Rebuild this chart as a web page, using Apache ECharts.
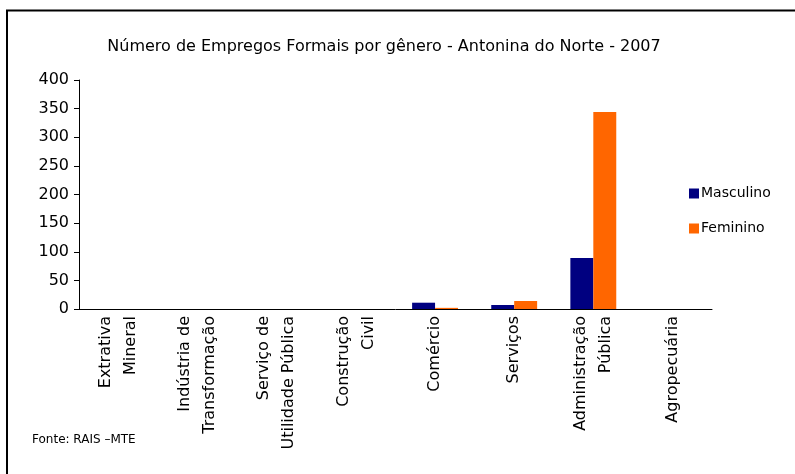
<!DOCTYPE html>
<html>
<head>
<meta charset="utf-8">
<script src="https://cdn.jsdelivr.net/npm/echarts@6/dist/echarts.min.js"></script>
<style>
  html, body { margin: 0; padding: 0; background: #fff; }
</style>
</head>
<body>
<div id="chart" style="width: 795px; height: 474px;"></div>
<script>
const categories = [
  'Extrativa\nMineral',
  'Indústria de\nTransformação',
  'Serviço de\nUtilidade Pública',
  'Construção\nCivil',
  'Comércio',
  'Serviços',
  'Administração\nPública',
  'Agropecuária'
];
const masculino = [0, 0, 0, 0, 11, 7, 89, 0];
const feminino = [0, 0, 0, 0, 2, 14, 344, 0];
const yTicks = [0, 50, 100, 150, 200, 250, 300, 350, 400];

const myChart = echarts.init(document.getElementById('chart'));
const font = 'DejaVu Sans, Verdana, sans-serif';

const option = {
  animation: false,
  backgroundColor: '#fff',
  title: {
    text: 'Número de Empregos Formais por gênero - Antonina do Norte - 2007',
    left: 379,
    textAlign: 'center',
    top: 34,
    textStyle: { fontFamily: font, fontSize: 16, fontWeight: 'normal', color: '#000' }
  },
  legend: {
    orient: 'vertical',
    left: 684,
    top: 181,
    itemWidth: 10,
    itemHeight: 10,
    itemGap: 20,
    icon: 'rect',
    textStyle: { fontFamily: font, fontSize: 14, lineHeight: 15, color: '#000', padding: [0, 0, 0, -3] },
    data: ['Masculino', 'Feminino']
  },
  grid: { left: 79, top: 80, right: 83, bottom: 165, containLabel: false },
  xAxis: {
    type: 'category',
    data: categories,
    axisLine: { lineStyle: { color: '#000', width: 1 } },
    axisTick: { length: 5, inside: false, lineStyle: { color: '#000' } },
    axisLabel: {
      rotate: 90,
      interval: 0,
      margin: 7,
      fontFamily: font,
      fontSize: 16,
      color: '#000',
      lineHeight: 25
    }
  },
  yAxis: {
    type: 'value',
    min: yTicks[0],
    max: yTicks[yTicks.length - 1],
    interval: 50,
    splitLine: { show: false },
    axisLine: { show: true, lineStyle: { color: '#000', width: 1 } },
    axisTick: { show: true, length: 5, lineStyle: { color: '#000' } },
    axisLabel: { fontFamily: font, fontSize: 16, color: '#000', margin: 10 }
  },
  series: [
    {
      name: 'Masculino',
      type: 'bar',
      data: masculino,
      barGap: '0%',
      barCategoryGap: '42%',
      itemStyle: { color: '#000080' }
    },
    {
      name: 'Feminino',
      type: 'bar',
      data: feminino,
      itemStyle: { color: '#ff6600' }
    }
  ],
  graphic: [
    {
      type: 'polyline',
      shape: { points: [[7, 474], [7, 10.5], [795, 10.5]] },
      style: { stroke: '#000', lineWidth: 2, fill: null }
    },
    {
      type: 'text',
      left: 32,
      top: 434,
      style: { text: 'Fonte: RAIS –MTE', font: '12px ' + font, fill: '#000' }
    }
  ]
};
myChart.setOption(option);
</script>
</body>
</html>
